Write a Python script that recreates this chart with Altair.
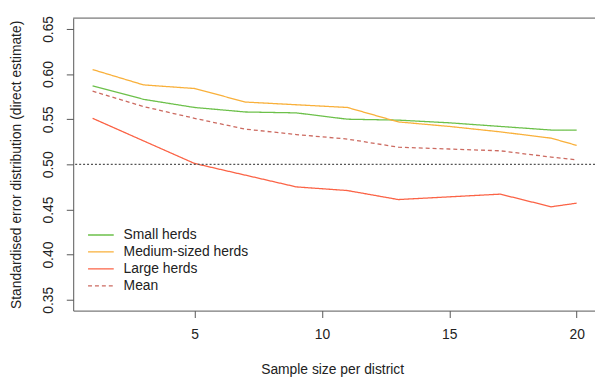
import altair as alt
import pandas as pd

sample_size = [1, 3, 5, 7, 9, 11, 13, 15, 17, 19, 20]
small_herds = [0.587, 0.572, 0.563, 0.558, 0.557, 0.550, 0.549, 0.546, 0.542, 0.538, 0.538]
medium_herds = [0.605, 0.588, 0.584, 0.569, 0.566, 0.563, 0.547, 0.542, 0.536, 0.529, 0.521]
large_herds = [0.551, 0.526, 0.501, 0.488, 0.475, 0.471, 0.461, 0.464, 0.467, 0.453, 0.457]
mean_vals = [0.581, 0.564, 0.551, 0.539, 0.533, 0.528, 0.519, 0.517, 0.515, 0.508, 0.505]

series_names = ["Small herds", "Medium-sized herds", "Large herds", "Mean"]
series_colors = ["#6cc04a", "#f9b03a", "#fb6346", "#cc6a60"]
series_dash = [[1, 0], [1, 0], [1, 0], [4, 3]]
x_ticks = [5, 10, 15, 20]
y_ticks = [0.35, 0.40, 0.45, 0.50, 0.55, 0.60, 0.65]
ref_level = [0.5]

rows = []
for name, vals in zip(series_names, [small_herds, medium_herds, large_herds, mean_vals]):
    for xv, yv in zip(sample_size, vals):
        rows.append({"n": xv, "value": yv, "series": name})
df = pd.DataFrame(rows)
legend_df = pd.DataFrame({"series": series_names})

FONT = "Liberation Sans"
W, H = 528, 296

xscale = alt.Scale(domain=[0.24, 20.72], nice=False, zero=False)
yscale = alt.Scale(domain=[0.338, 0.662], nice=False, zero=False)
color_scale = alt.Scale(domain=series_names, range=series_colors)
dash_scale = alt.Scale(domain=series_names, range=series_dash)
legend_rows = alt.Scale(type="point", domain=series_names, range=[219.5, 271], padding=0)

y_axis = alt.Axis(values=y_ticks, format=".2f", title="Standardised error distribution (direct estimate)",
                  orient="left", grid=False, tickSize=7, labelPadding=14, labelAngle=270,
                  labelAlign="center", labelBaseline="alphabetic",
                  labelFontSize=14, titleFontSize=14, labelFont=FONT, titleFont=FONT,
                  labelColor="#222", titleColor="#222", domainColor="#555", tickColor="#555",
                  titleFontWeight="normal", titleAngle=270, titleX=-53, titleY=148,
                  titleAlign="center", titleBaseline="alphabetic")

lines = alt.Chart(df).mark_line(strokeWidth=1.3).encode(
    x=alt.X("n:Q", scale=xscale,
            axis=alt.Axis(values=x_ticks, title="Sample size per district", grid=False,
                          tickSize=7, labelPadding=10, labelFontSize=14, titleFontSize=14,
                          labelFont=FONT, titleFont=FONT, labelColor="#222", titleColor="#222",
                          domainColor="#555", tickColor="#555", titleFontWeight="normal",
                          titleX=262, titleY=64, titleBaseline="alphabetic")),
    y=alt.Y("value:Q", scale=yscale, axis=y_axis),
    color=alt.Color("series:N", scale=color_scale, legend=None),
    strokeDash=alt.StrokeDash("series:N", scale=dash_scale, legend=None),
    order=alt.Order("n:Q"),
)

ref = alt.Chart(pd.DataFrame({"value": ref_level})).mark_rule(
    color="#555", strokeDash=[2, 2], strokeWidth=1.4
).encode(y=alt.Y("value:Q", scale=yscale, axis=y_axis))

top_border = alt.Chart(pd.DataFrame({"value": ref_level})).mark_rule(
    color="#555", strokeWidth=1
).encode(x=alt.value(0), x2=alt.value(W), y=alt.value(0))

legend_lines = alt.Chart(legend_df).mark_rule(strokeWidth=1.3).encode(
    x=alt.value(15), x2=alt.value(41),
    y=alt.Y("series:N", scale=legend_rows, axis=None),
    color=alt.Color("series:N", scale=color_scale, legend=None),
    strokeDash=alt.StrokeDash("series:N", scale=dash_scale, legend=None),
)
legend_text = alt.Chart(legend_df).mark_text(
    align="left", baseline="middle", font=FONT, fontSize=14, color="#222"
).encode(
    x=alt.value(51),
    y=alt.Y("series:N", scale=legend_rows, axis=None),
    text="series:N",
)

plot_layer = alt.layer(lines, ref, top_border)
legend_layer = alt.layer(legend_lines, legend_text)

chart = alt.layer(plot_layer, legend_layer).resolve_scale(
    y="independent"
).properties(
    width=W, height=H,
    autosize=alt.AutoSizeParams(type="none"),
    padding={"left": 66, "top": 8, "right": 0, "bottom": 67},
    background="white",
).configure_view(strokeWidth=0)

chart.save("out.html", embed_options={"renderer": "svg", "actions": False})
